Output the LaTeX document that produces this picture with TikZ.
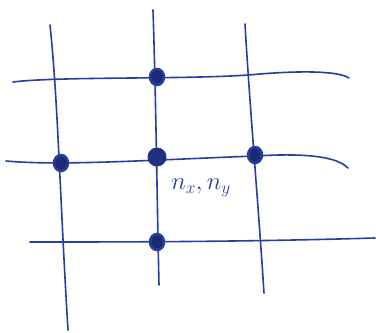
\documentclass[tikz,border=0pt]{standalone}
\usepackage{amsmath}
\usepackage{tikz}
\usetikzlibrary{positioning,calc,shapes.geometric}
\definecolor{pen}{RGB}{38,62,160}

\tikzset{
  gridline/.style={draw=pen,line width=1.6pt,line cap=round},
  meshpt/.style={ellipse,draw=pen,line width=2.5pt,fill=pen!70!black,minimum width=14pt,minimum height=16pt,inner sep=0pt},
  centrept/.style={circle,fill=pen!80!black,minimum size=19pt,inner sep=0pt}
}

\begin{document}
\begin{tikzpicture}[x=1pt,y=-1pt]
  \useasboundingbox (0,0) rectangle (376,333);
  % grid line ends
  \coordinate (v1a) at (50,25);   \coordinate (v1b) at (68,330);
  \coordinate (v2a) at (153,10);  \coordinate (v2b) at (159,285);
  \coordinate (v3a) at (245,24);  \coordinate (v3b) at (264,293);
  \coordinate (h1a) at (13,82);   \coordinate (h1b) at (349,78);
  \coordinate (h2a) at (6,161);   \coordinate (h2b) at (348,168);
  \coordinate (h3a) at (30,242);  \coordinate (h3b) at (375,238);
  % vertical lines
  \draw[gridline] (v1a) .. controls (58,100) and (60,200) .. (v1b);
  \draw[gridline] (v2a) .. controls (156,100) and (157,200) .. (v2b);
  \draw[gridline] (v3a) .. controls (250,110) and (258,200) .. (v3b);
  % horizontal lines
  \draw[gridline] (h1a) .. controls (60,76) and (200,80) .. (260,74) .. controls (310,70) and (340,72) .. (h1b);
  \draw[gridline] (h2a) .. controls (60,166) and (150,160) .. (255,156) .. controls (320,152) and (340,160) .. (h2b);
  \draw[gridline] (h3a) .. controls (120,242) and (240,242) .. (h3b);
  % stencil points
  \node[centrept] (c) at (157,157) {};
  \node[meshpt] (n) at (157,77) {};
  \node[meshpt] (s) at (157,242) {};
  \node[meshpt] (w) at (61,163) {};
  \node[meshpt] (e) at (255,155) {};
  \node[text=pen,font=\fontsize{23}{26}\selectfont] (lbl) at (201,188) {$n_x,n_y$};
\end{tikzpicture}
\end{document}
